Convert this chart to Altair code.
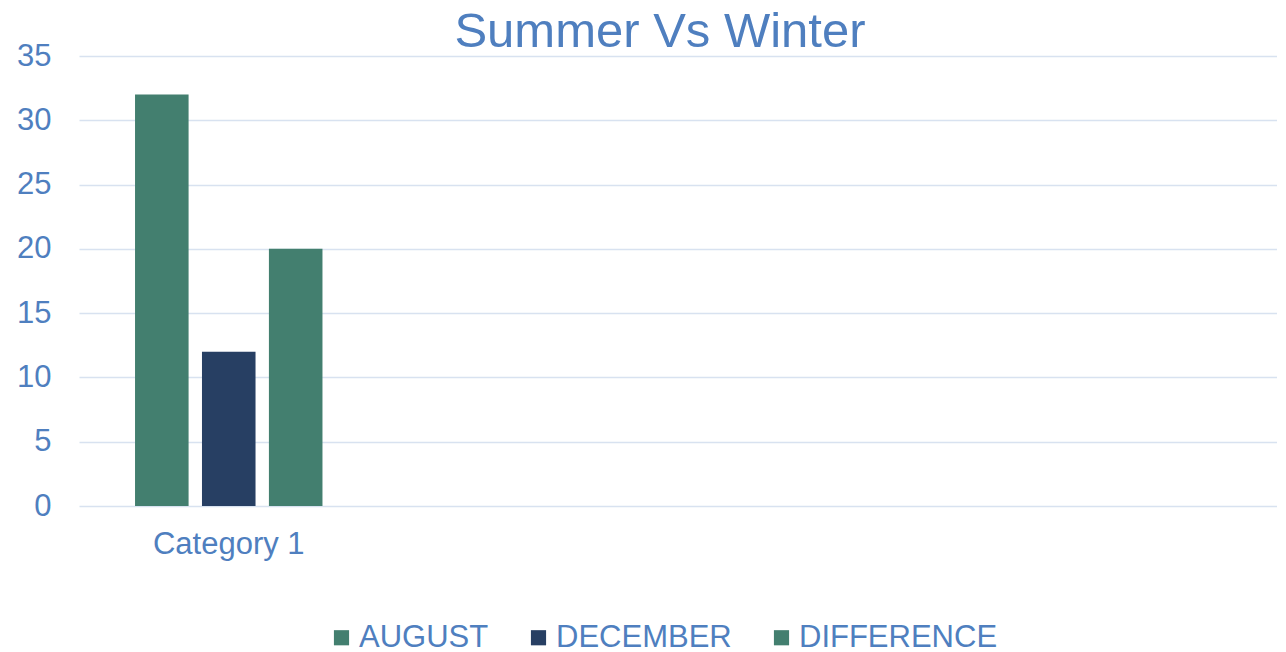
import altair as alt
import pandas as pd

# Data
category_slots = ["Category 1", " ", "  ", "   "]
categories = ["Category 1", "Category 1", "Category 1"]
series = ["AUGUST", "DECEMBER", "DIFFERENCE"]
values = [32, 12, 20]
y_ticks = [0, 5, 10, 15, 20, 25, 30, 35]

GREEN = "#437F6F"
NAVY = "#273F63"
TEXT = "#4F7FBF"
GRID = "#D8E2F0"
FONT = "Liberation Sans"

df = pd.DataFrame({"category": categories, "series": series, "value": values})

chart = (
    alt.Chart(df)
    .mark_bar()
    .encode(
        x=alt.X(
            "category:N",
            scale=alt.Scale(domain=category_slots, paddingInner=0, paddingOuter=0),
            axis=alt.Axis(
                title=None, labelAngle=0, domain=False, ticks=False,
                labelFontSize=31, labelPadding=23, labelColor=TEXT, labelFont=FONT,
            ),
        ),
        xOffset=alt.XOffset(
            "series:N",
            scale=alt.Scale(domain=series, paddingInner=0.2, paddingOuter=0.837),
        ),
        y=alt.Y(
            "value:Q",
            scale=alt.Scale(domain=[0, 35], nice=False),
            axis=alt.Axis(
                title=None, values=y_ticks, domain=False, ticks=False, grid=True,
                gridColor=GRID, gridWidth=1.5, labelFontSize=31, labelPadding=28,
                labelColor=TEXT, labelFont=FONT,
            ),
        ),
        color=alt.Color(
            "series:N",
            scale=alt.Scale(domain=series, range=[GREEN, NAVY, GREEN]),
            legend=alt.Legend(
                title=None, orient="none", legendX=247, legendY=566,
                direction="horizontal", symbolType="square", symbolSize=230,
                symbolStrokeWidth=0, labelFontSize=31, labelColor=TEXT, labelFont=FONT,
                columnPadding=34, labelOffset=2, labelLimit=0,
            ),
        ),
    )
    .properties(
        width=1198,
        height=450,
        padding={"left": 8, "top": 0, "right": 0, "bottom": 0},
        title=alt.TitleParams(
            "Summer Vs Winter", fontSize=49, font=FONT, color=TEXT,
            fontWeight="normal", anchor="middle", dx=-18, offset=-17,
        ),
    )
    .configure_view(stroke=None)
)

chart.save("out.html", embed_options={"renderer": "svg", "actions": False})
